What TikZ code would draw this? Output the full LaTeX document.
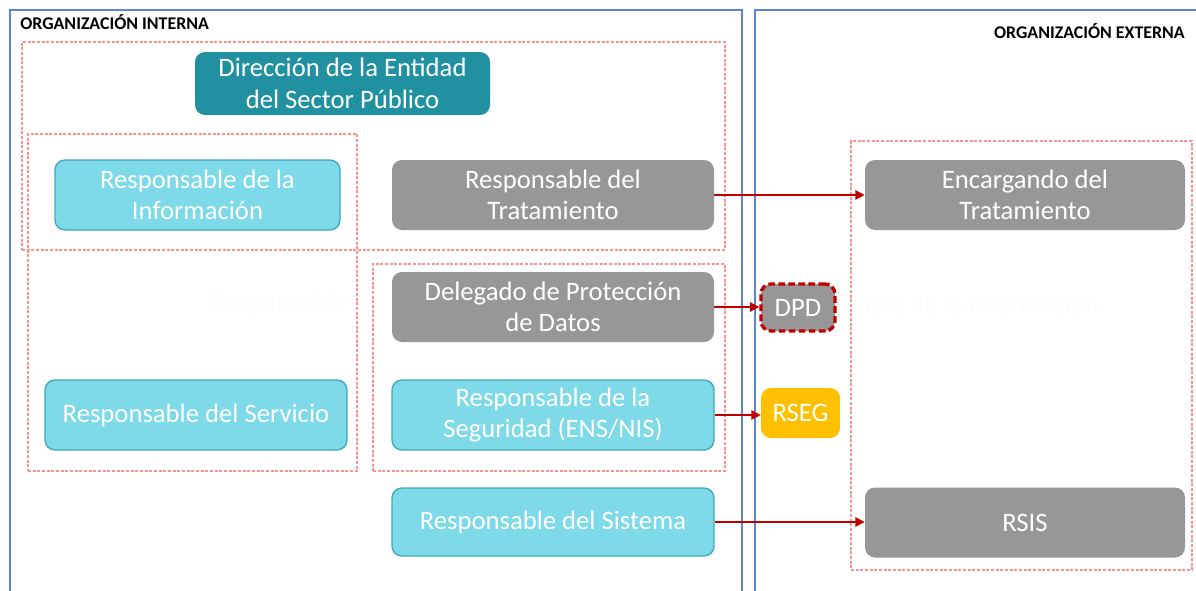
\documentclass[tikz,border=0pt]{standalone}
\usepackage{fontspec}
\setmainfont{Carlito}
\usetikzlibrary{arrows.meta,fit}
\definecolor{frameblue}{HTML}{5A85D4}
\definecolor{dashred}{HTML}{FF9090}
\definecolor{arrowred}{HTML}{C00000}
\definecolor{tealdark}{HTML}{2190A1}
\definecolor{cyanfill}{HTML}{7ED9E8}
\definecolor{cyanline}{HTML}{3FA9BA}
\definecolor{grayfill}{HTML}{979797}
\definecolor{gold}{HTML}{FFC000}
\definecolor{ghost}{HTML}{FCFCFC}
\begin{document}
\begin{tikzpicture}[x=0.75pt,y=-0.75pt,
  org/.style={draw=frameblue, line width=1.5pt, inner sep=0pt},
  zone/.style={draw=dashred, line width=0.8pt, dash pattern=on 2.2pt off 1.3pt, inner sep=0pt},
  basebox/.style={rounded corners=7.5pt, inner sep=0pt, align=center, text=white,
     font=\fontsize{20pt}{23.5pt}\selectfont},
  tealbox/.style={basebox, fill=tealdark},
  cyanbox/.style={basebox, fill=cyanfill, draw=cyanline, line width=1pt},
  graybox/.style={basebox, fill=grayfill},
  goldbox/.style={basebox, fill=gold},
  dpdbox/.style={basebox, fill=grayfill, draw=arrowred, line width=2.5pt, dash pattern=on 5pt off 2.5pt},
  title/.style={font=\fontsize{13.4pt}{16pt}\selectfont\bfseries, inner sep=0pt},
  link/.style={draw=arrowred, line width=1.4pt, -{Triangle[length=7pt,width=7pt]}},
  ghosttext/.style={text=ghost, inner sep=0pt, font=\fontsize{20pt}{23.5pt}\selectfont}
]
\useasboundingbox (0,0) rectangle (1196,590);

% organisation frames
\node[org, fit={(10,10) (742,600)}] (interna) {};
\node[org, fit={(755,10) (1210,600)}] (externa) {};
\node[title, anchor=west] (tint) at (20,22) {ORGANIZACIÓN INTERNA};
\node[title, anchor=east] (text) at (1185,31) {ORGANIZACIÓN EXTERNA};

% faint background text
\node[ghosttext, anchor=west] (g1) at (210,304) {Responsable};
\node[ghosttext, anchor=west] (g2) at (858,304) {able de la información};

% dashed zones
\node[zone, fit={(22,42) (725,250)}] (z1) {};
\node[zone, fit={(28,134) (357,471)}] (z2) {};
\node[zone, fit={(373,264) (725,471)}] (z3) {};
\node[zone, fit={(851,141) (1192,570)}] (z4) {};

% boxes
\node[tealbox, minimum width=221.25pt, minimum height=47.25pt] (dir) at (342.5,83.5) {Dirección de la Entidad\\del Sector Público};
\node[cyanbox, minimum width=213.75pt, minimum height=52.5pt] (rinfo) at (197.5,195) {Responsable de la\\Información};
\node[graybox, minimum width=241.5pt, minimum height=52.5pt] (rtrat) at (553,195) {Responsable del\\Tratamiento};
\node[graybox, minimum width=240pt, minimum height=52.5pt] (etrat) at (1025,195) {Encargando del\\Tratamiento};
\node[graybox, minimum width=241.5pt, minimum height=52.5pt] (dpo) at (553,307) {Delegado de Protección\\de Datos};
\node[dpdbox, minimum width=55.5pt, minimum height=35.25pt] (dpd) at (798,307.5) {DPD};
\node[cyanbox, minimum width=226.5pt, minimum height=52.5pt] (rserv) at (196,415) {Responsable del Servicio};
\node[cyanbox, minimum width=241.5pt, minimum height=52.5pt] (rseg) at (553,415) {Responsable de la\\Seguridad (ENS/NIS)};
\node[goldbox, minimum width=59.25pt, minimum height=37.5pt] (rsegb) at (800.5,413) {RSEG};
\node[cyanbox, minimum width=241.5pt, minimum height=51pt] (rsist) at (553,522) {Responsable del Sistema};
\node[graybox, minimum width=240pt, minimum height=52.5pt] (rsis) at (1025,522.5) {RSIS};

% connectors
\draw[link] (rtrat.east) -- (etrat.west);
\draw[link] (dpo.east) -- (dpo.east -| dpd.west);
\draw[link] (rseg.east) -- (rseg.east -| rsegb.west);
\draw[link] (rsist.east) -- (rsist.east -| rsis.west);
\end{tikzpicture}
\end{document}
